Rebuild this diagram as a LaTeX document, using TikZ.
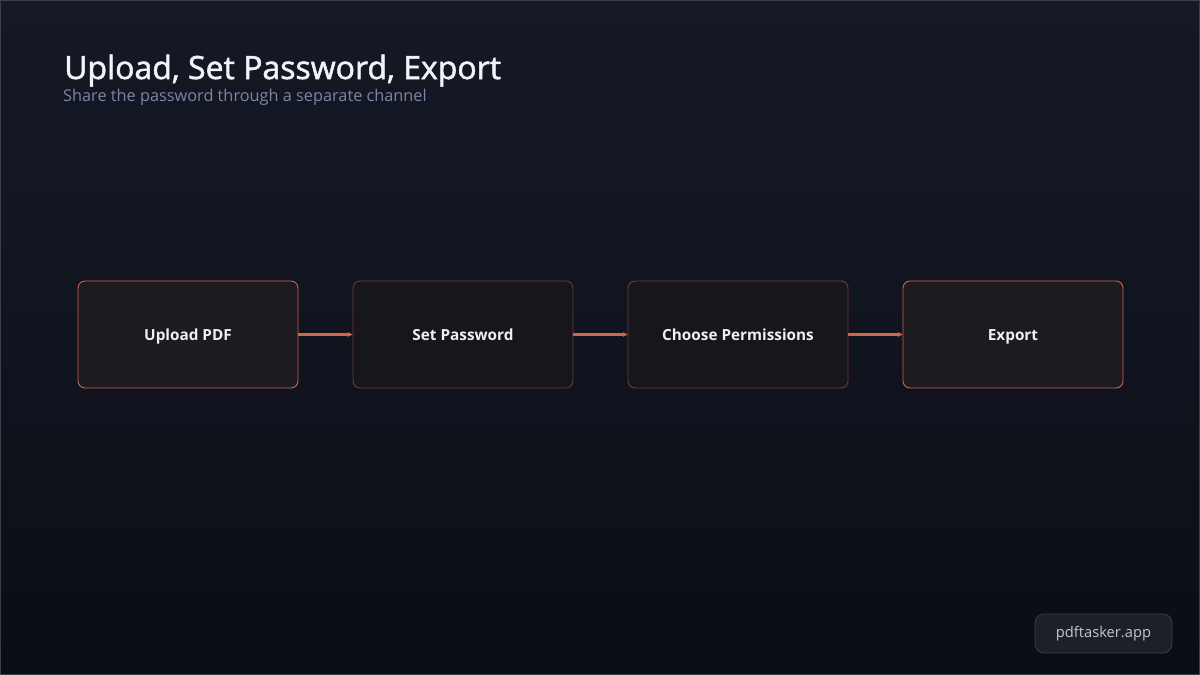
\documentclass[tikz,border=0pt]{standalone}
\usepackage{fontspec}
\setmainfont{Open Sans}
\newfontfamily\titlefont{Open Sans}[FakeBold=1.6]
\usetikzlibrary{arrows.meta,fadings}
\definecolor{bgA}{HTML}{151925}
\definecolor{bgB}{HTML}{0A0D14}
\definecolor{frameC}{HTML}{3A3F4B}
\definecolor{hiBorder}{HTML}{C8654B}
\definecolor{loBorder}{HTML}{6A3B35}
\definecolor{hiFill}{HTML}{1D1A20}
\definecolor{loFill}{HTML}{16161C}
\definecolor{arrowC}{HTML}{D0654A}
\definecolor{titleC}{HTML}{F1F3F8}
\definecolor{subC}{HTML}{7C86A2}
\definecolor{textC}{HTML}{EEF0F5}
\definecolor{badgeFill}{HTML}{1E2028}
\definecolor{badgeBorder}{HTML}{3A3D46}
\definecolor{badgeText}{HTML}{C3C6CE}
\tikzset{
  stepbox/.style={rounded corners=7pt, minimum width=220pt, minimum height=107pt,
    inner sep=0pt, text height=11pt, text depth=0pt,
    font=\bfseries\fontsize{15.3}{18}\selectfont, text=textC, line width=0.9pt},
  hot/.style={stepbox, draw=hiBorder, fill=hiFill},
  cool/.style={stepbox, draw=loBorder, fill=loFill},
  flow/.style={draw=arrowC, line width=2.4pt, -{Stealth[length=5pt,width=5pt]}}
}
\begin{document}
\begin{tikzpicture}[x=1pt,y=-1pt]
\useasboundingbox (0,0) rectangle (1200,675);
\shade[left color=bgA, right color=bgB, shading angle=0] (0,0) rectangle (1200,675);
\fill[bgA, opacity=0.5, path fading=south] (0,0) rectangle (1200,675);
\draw[frameC, line width=1pt] (0.5,0.5) rectangle (1199.5,674.5);

\node[anchor=base west, inner sep=0pt, text=titleC, font=\titlefont\fontsize{32}{38}\selectfont] (title) at (64,79) {Upload, Set Password, Export};
\node[anchor=base west, inner sep=0pt, text=subC, font=\fontsize{16.3}{20}\selectfont] (sub) at (63,101.5) {Share the password through a separate channel};

\node[hot]  (s1) at (188,334.5) {Upload PDF};
\node[cool] (s2) at (463,334.5) {Set Password};
\node[cool] (s3) at (738,334.5) {Choose Permissions};
\node[hot]  (s4) at (1013,334.5) {Export};

\draw[flow] (s1.east) -- (s2.west);
\draw[flow] (s2.east) -- (s3.west);
\draw[flow] (s3.east) -- (s4.west);

\node[draw=badgeBorder, fill=badgeFill, rounded corners=9pt, line width=0.8pt,
  minimum width=137pt, minimum height=39pt, inner sep=0pt, text=badgeText,
  font=\fontsize{14.7}{18}\selectfont] (badge) at (1103.5,633.5) {pdftasker.app};
\end{tikzpicture}
\end{document}
